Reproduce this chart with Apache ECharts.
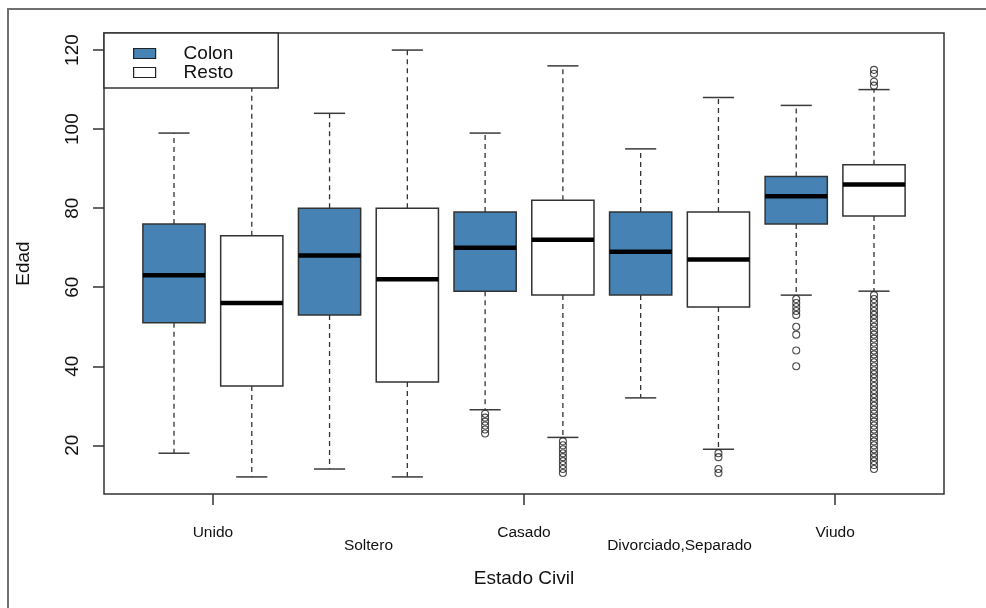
<!DOCTYPE html>
<html><head><meta charset="utf-8">
<script src="https://cdn.jsdelivr.net/npm/echarts@6/dist/echarts.min.js"></script>
<style>html,body{margin:0;padding:0;background:#fff}#c{width:986px;height:608px}</style>
</head><body><div id="c"></div>
<script>
const categories = ['Unido', 'Soltero', 'Casado', 'Divorciado,Separado', 'Viudo'];
const groups = ['Colon', 'Resto'];
const yTicks = [20, 40, 60, 80, 100, 120];

const colonMin = [18, 14, 29, 32, 58];
const colonQ1  = [51, 53, 59, 58, 76];
const colonMed = [63, 68, 70, 69, 83];
const colonQ3  = [76, 80, 79, 79, 88];
const colonMax = [99, 104, 99, 95, 106];

const restoMin = [12, 12, 22, 19, 59];
const restoQ1  = [35, 36, 58, 55, 78];
const restoMed = [56, 62, 72, 67, 86];
const restoQ3  = [73, 80, 82, 79, 91];
const restoMax = [120, 120, 116, 108, 110];

const colonOutliers = [
  [],
  [],
  [28, 27, 26, 25, 24, 23],
  [],
  [57, 56, 55, 54, 53, 50, 48, 44, 40]
];
const restoOutliers = [
  [],
  [],
  [21, 20, 19, 18, 17, 16, 15, 14, 13],
  [18, 17, 14, 13],
  [115, 114, 112, 111, 58, 57, 56, 55, 54, 53, 52, 51, 50, 49, 48, 47, 46, 45, 44, 43, 42, 41, 40, 39, 38, 37, 36, 35, 34, 33, 32, 31, 30, 29, 28, 27, 26, 25, 24, 23, 22, 21, 20, 19, 18, 17, 16, 15, 14]
];

const FONT = "'Liberation Sans', Arial, sans-serif";
const TXT = '#111';

function boxData(mins, q1s, meds, q3s, maxs, offset) {
  return categories.map((c, i) => [2 * i + offset, mins[i], q1s[i], meds[i], q3s[i], maxs[i]]);
}
function outlierData(list, offset) {
  const out = [];
  list.forEach((vals, i) => vals.forEach(v => out.push([2 * i + offset, v])));
  return out;
}

function renderBox(fill) {
  return function (params, api) {
    const x = api.value(0), lo = api.value(1), q1 = api.value(2), md = api.value(3), q3 = api.value(4), hi = api.value(5);
    const c = (a, b) => api.coord([a, b]);
    const hw = 0.4, cw = 0.2;
    const tl = c(x - hw, q3), br = c(x + hw, q1);
    const dash = { stroke: '#333', lineWidth: 1.3, lineDash: [5, 4] };
    const solid = { stroke: '#3a3a3a', lineWidth: 1.5 };
    const ln = (a, b, style) => ({ type: 'line', shape: { x1: a[0], y1: a[1], x2: b[0], y2: b[1] }, style: style });
    return {
      type: 'group',
      children: [
        ln(c(x, q3), c(x, hi), dash),
        ln(c(x, q1), c(x, lo), dash),
        ln(c(x - cw, hi), c(x + cw, hi), solid),
        ln(c(x - cw, lo), c(x + cw, lo), solid),
        { type: 'rect', shape: { x: tl[0], y: tl[1], width: br[0] - tl[0], height: br[1] - tl[1] },
          style: { fill: fill, stroke: '#333', lineWidth: 1.5 } },
        ln(c(x - hw, md), c(x + hw, md), { stroke: '#000', lineWidth: 4.5 })
      ]
    };
  };
}

const topLabels = {}; const bottomLabels = {};
categories.forEach((c, i) => { (i % 2 === 0 ? topLabels : bottomLabels)[2 * i + 1.5] = c; });
const topVals = Object.keys(topLabels).map(Number);
const bottomVals = Object.keys(bottomLabels).map(Number);

const chart = echarts.init(document.getElementById('c'), null, { renderer: 'canvas' });
chart.setOption({
  animation: false,
  backgroundColor: '#fff',
  textStyle: { fontFamily: FONT },
  grid: { left: 104, right: 42, top: 33, bottom: 114, show: true, borderColor: '#333', borderWidth: 1.5, backgroundColor: 'transparent' },
  legend: {
    left: 104, top: 33, orient: 'vertical',
    backgroundColor: '#fff', borderColor: '#333', borderWidth: 1.5,
    padding: [11, 45, 6, 29],
    itemWidth: 22, itemHeight: 10, itemGap: 0,
    selectedMode: false,
    textStyle: { fontSize: 19, color: TXT, fontFamily: FONT, lineHeight: 18, padding: [0, 0, 0, 23] },
    data: [
      { name: 'Colon', icon: 'rect', itemStyle: { color: '#4682B4', borderColor: '#222', borderWidth: 1.2 } },
      { name: 'Resto', icon: 'rect', itemStyle: { color: '#fff', borderColor: '#222', borderWidth: 1.2 } }
    ]
  },
  xAxis: [
    {
      type: 'value', min: 0.1, max: 10.9, position: 'bottom',
      splitLine: { show: false }, axisLine: { show: false },
      axisTick: { show: true, customValues: topVals, length: 11, lineStyle: { color: '#333', width: 1.5 } },
      axisLabel: { customValues: topVals, formatter: v => topLabels[v] || '', fontSize: 15.5, color: TXT, margin: 31, fontFamily: FONT },
      name: 'Estado Civil', nameLocation: 'middle', nameGap: 75,
      nameTextStyle: { fontSize: 19, color: TXT, fontFamily: FONT }
    },
    {
      type: 'value', min: 0.1, max: 10.9, position: 'bottom',
      splitLine: { show: false }, axisLine: { show: false }, axisTick: { show: false },
      axisLabel: { customValues: bottomVals, formatter: v => bottomLabels[v] || '', fontSize: 15.5, color: TXT, margin: 44, fontFamily: FONT }
    }
  ],
  yAxis: {
    type: 'value', min: 7.68, max: 124.32,
    splitLine: { show: false }, axisLine: { show: false },
    axisTick: { show: true, customValues: yTicks, length: 11, lineStyle: { color: '#333', width: 1.5 } },
    axisLabel: { customValues: yTicks, rotate: 90, fontSize: 19, color: TXT, margin: 22, fontFamily: FONT },
    name: 'Edad', nameLocation: 'middle', nameGap: 71, nameRotate: 90,
    nameTextStyle: { fontSize: 19, color: TXT, fontFamily: FONT }
  },
  graphic: [
    { type: 'line', shape: { x1: 8, y1: 9, x2: 986, y2: 9 }, style: { stroke: '#707070', lineWidth: 2 }, silent: true },
    { type: 'line', shape: { x1: 8, y1: 8, x2: 8, y2: 608 }, style: { stroke: '#707070', lineWidth: 2 }, silent: true }
  ],
  series: [
    { name: 'Colon', type: 'custom', renderItem: renderBox('#4682B4'), data: boxData(colonMin, colonQ1, colonMed, colonQ3, colonMax, 1),
      itemStyle: { color: '#4682B4' }, encode: { x: 0, y: [1, 2, 3, 4, 5] }, z: 2 },
    { name: 'Resto', type: 'custom', renderItem: renderBox('#ffffff'), data: boxData(restoMin, restoQ1, restoMed, restoQ3, restoMax, 2),
      itemStyle: { color: '#ffffff' }, encode: { x: 0, y: [1, 2, 3, 4, 5] }, z: 2 },
    { name: 'Colon atípicos', type: 'scatter', data: outlierData(colonOutliers, 1), symbol: 'circle', symbolSize: 7,
      itemStyle: { color: 'rgba(0,0,0,0)', borderColor: '#222', borderWidth: 1.1 }, z: 3 },
    { name: 'Resto atípicos', type: 'scatter', data: outlierData(restoOutliers, 2), symbol: 'circle', symbolSize: 7,
      itemStyle: { color: 'rgba(0,0,0,0)', borderColor: '#222', borderWidth: 1.1 }, z: 3 }
  ]
});
</script>
</body></html>
